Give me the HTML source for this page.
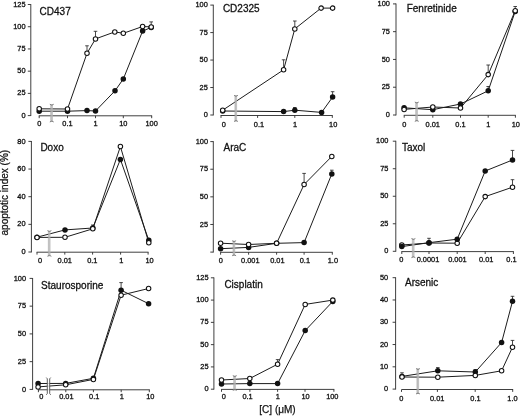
<!DOCTYPE html>
<html><head><meta charset="utf-8"><style>
html,body{margin:0;padding:0;background:#fff;}
body{width:520px;height:416px;overflow:hidden;}
svg{display:block;will-change:transform;}
text{font-family:"Liberation Sans",sans-serif;fill:#111;}
.tk{font-size:7.4px;stroke:#111;stroke-width:0.3px;}
.tt{font-size:10px;stroke:#111;stroke-width:0.28px;}
.lab{font-size:10px;stroke:#111;stroke-width:0.25px;}
.ax{stroke:#2a2a2a;stroke-width:0.9;fill:none;}
.ln{stroke:#1c1c1c;stroke-width:1.0;fill:none;stroke-linejoin:round;}
.eb{stroke:#1c1c1c;stroke-width:0.8;}
.oc{fill:#fff;stroke:#111;stroke-width:1.05;}
.fc{fill:#111;}
</style></head><body>
<svg width="520" height="416" viewBox="0 0 520 416">
<g><line x1="30.8" y1="4.1" x2="30.8" y2="116" class="ax"/>
<line x1="27.8" y1="115.6" x2="30.8" y2="115.6" class="ax"/>
<text x="25.6" y="117.7" class="tk" text-anchor="end">0</text>
<line x1="27.8" y1="93.38" x2="30.8" y2="93.38" class="ax"/>
<text x="25.6" y="95.48" class="tk" text-anchor="end">25</text>
<line x1="27.8" y1="71.16" x2="30.8" y2="71.16" class="ax"/>
<text x="25.6" y="73.26" class="tk" text-anchor="end">50</text>
<line x1="27.8" y1="48.94" x2="30.8" y2="48.94" class="ax"/>
<text x="25.6" y="51.04" class="tk" text-anchor="end">75</text>
<line x1="27.8" y1="26.72" x2="30.8" y2="26.72" class="ax"/>
<text x="25.6" y="28.82" class="tk" text-anchor="end">100</text>
<line x1="27.8" y1="4.5" x2="30.8" y2="4.5" class="ax"/>
<text x="25.6" y="6.6" class="tk" text-anchor="end">125</text>
<line x1="38.8" y1="115.8" x2="152.1" y2="115.8" class="ax"/>
<line x1="39.2" y1="115.8" x2="39.2" y2="118.2" class="ax"/>
<text x="39.2" y="126.2" class="tk" text-anchor="middle">0</text>
<line x1="67.5" y1="115.8" x2="67.5" y2="118.2" class="ax"/>
<text x="67.5" y="126.2" class="tk" text-anchor="middle">0.1</text>
<line x1="95.5" y1="115.8" x2="95.5" y2="118.2" class="ax"/>
<text x="95.5" y="126.2" class="tk" text-anchor="middle">1</text>
<line x1="123.3" y1="115.8" x2="123.3" y2="118.2" class="ax"/>
<text x="123.3" y="126.2" class="tk" text-anchor="middle">10</text>
<line x1="151.7" y1="115.8" x2="151.7" y2="118.2" class="ax"/>
<text x="151.6" y="126.2" class="tk" text-anchor="middle">100</text>
<text x="39.6" y="14.6" class="tt">CD437</text>
<polyline points="39.2,111.2 67.5,111.2 87,110.6 95.5,111 115,90.8 123.3,79 142.6,31.1 151.2,27.4" class="ln"/>
<polyline points="39.2,108.8 67.5,109 87,53.3 95.5,38.9 114.8,31.9 123.3,33.3 142.6,26.5 151.2,26.9" class="ln"/>
<line x1="87" y1="53.3" x2="87" y2="45.8" class="eb"/>
<line x1="85.2" y1="45.8" x2="88.8" y2="45.8" class="eb"/>
<line x1="95.5" y1="38.9" x2="95.5" y2="31.3" class="eb"/>
<line x1="93.7" y1="31.3" x2="97.3" y2="31.3" class="eb"/>
<line x1="151.2" y1="26.9" x2="151.2" y2="21.9" class="eb"/>
<line x1="149.4" y1="21.9" x2="153" y2="21.9" class="eb"/>
<rect x="50.7" y="104.2" width="2.2" height="17.8" fill="#b4b4b4" opacity="0.8"/>
<path d="M50.7 104.2V122" fill="none" stroke="#a0a0a0" stroke-width="0.5"/>
<path d="M49.8 104.2L51.8 105.2L53.8 104.2 M49.8 122L51.8 121L53.8 122" fill="none" stroke="#666" stroke-width="0.75"/>
<circle cx="39.2" cy="111.2" r="2.75" class="fc"/>
<circle cx="67.5" cy="111.2" r="2.75" class="fc"/>
<circle cx="87" cy="110.6" r="2.75" class="fc"/>
<circle cx="95.5" cy="111" r="2.75" class="fc"/>
<circle cx="115" cy="90.8" r="2.75" class="fc"/>
<circle cx="123.3" cy="79" r="2.75" class="fc"/>
<circle cx="142.6" cy="31.1" r="2.75" class="fc"/>
<circle cx="151.2" cy="27.4" r="2.75" class="fc"/>
<circle cx="39.2" cy="108.8" r="2.25" class="oc"/>
<circle cx="67.5" cy="109" r="2.25" class="oc"/>
<circle cx="87" cy="53.3" r="2.25" class="oc"/>
<circle cx="95.5" cy="38.9" r="2.25" class="oc"/>
<circle cx="114.8" cy="31.9" r="2.25" class="oc"/>
<circle cx="123.3" cy="33.3" r="2.25" class="oc"/>
<circle cx="142.6" cy="26.5" r="2.25" class="oc"/>
<circle cx="151.2" cy="26.9" r="2.25" class="oc"/></g>
<g><line x1="213.3" y1="4.7" x2="213.3" y2="115.4" class="ax"/>
<line x1="210.3" y1="115" x2="213.3" y2="115" class="ax"/>
<text x="207.8" y="117.1" class="tk" text-anchor="end">0</text>
<line x1="210.3" y1="87.53" x2="213.3" y2="87.53" class="ax"/>
<text x="207.8" y="89.62" class="tk" text-anchor="end">25</text>
<line x1="210.3" y1="60.05" x2="213.3" y2="60.05" class="ax"/>
<text x="207.8" y="62.15" class="tk" text-anchor="end">50</text>
<line x1="210.3" y1="32.58" x2="213.3" y2="32.58" class="ax"/>
<text x="207.8" y="34.68" class="tk" text-anchor="end">75</text>
<line x1="210.3" y1="5.1" x2="213.3" y2="5.1" class="ax"/>
<text x="207.8" y="7.2" class="tk" text-anchor="end">100</text>
<line x1="220.6" y1="115.5" x2="332.7" y2="115.5" class="ax"/>
<line x1="221" y1="115.5" x2="221" y2="117.9" class="ax"/>
<text x="223.8" y="126.8" class="tk" text-anchor="middle">0</text>
<line x1="257.6" y1="115.5" x2="257.6" y2="117.9" class="ax"/>
<text x="259" y="126.8" class="tk" text-anchor="middle">0.1</text>
<line x1="294.8" y1="115.5" x2="294.8" y2="117.9" class="ax"/>
<text x="295" y="126.8" class="tk" text-anchor="middle">1</text>
<line x1="332.3" y1="115.5" x2="332.3" y2="117.9" class="ax"/>
<text x="333.2" y="126.8" class="tk" text-anchor="middle">10</text>
<text x="222.9" y="12" class="tt">CD2325</text>
<polyline points="222.7,111 283.6,111.6 294.8,110.2 321.6,112.4 332.6,97.1" class="ln"/>
<polyline points="222.7,110.2 283.6,69.8 294.8,28.9 321.1,8.1 332.6,8.1" class="ln"/>
<line x1="283.6" y1="69.8" x2="283.6" y2="59.8" class="eb"/>
<line x1="281.8" y1="59.8" x2="285.4" y2="59.8" class="eb"/>
<line x1="294.8" y1="28.9" x2="294.8" y2="21" class="eb"/>
<line x1="293" y1="21" x2="296.6" y2="21" class="eb"/>
<line x1="294.8" y1="110.2" x2="294.8" y2="107.5" class="eb"/>
<line x1="293" y1="107.5" x2="296.6" y2="107.5" class="eb"/>
<line x1="332.6" y1="97.1" x2="332.6" y2="91.7" class="eb"/>
<line x1="330.8" y1="91.7" x2="334.4" y2="91.7" class="eb"/>
<rect x="234.9" y="95.3" width="2.2" height="26.2" fill="#b4b4b4" opacity="0.8"/>
<path d="M234.9 95.3V121.5" fill="none" stroke="#a0a0a0" stroke-width="0.5"/>
<path d="M234 95.3L236 96.3L238 95.3 M234 121.5L236 120.5L238 121.5" fill="none" stroke="#666" stroke-width="0.75"/>
<circle cx="222.7" cy="111" r="2.75" class="fc"/>
<circle cx="283.6" cy="111.6" r="2.75" class="fc"/>
<circle cx="294.8" cy="110.2" r="2.75" class="fc"/>
<circle cx="321.6" cy="112.4" r="2.75" class="fc"/>
<circle cx="332.6" cy="97.1" r="2.75" class="fc"/>
<circle cx="222.7" cy="110.2" r="2.25" class="oc"/>
<circle cx="283.6" cy="69.8" r="2.25" class="oc"/>
<circle cx="294.8" cy="28.9" r="2.25" class="oc"/>
<circle cx="321.1" cy="8.1" r="2.25" class="oc"/>
<circle cx="332.6" cy="8.1" r="2.25" class="oc"/></g>
<g><line x1="396" y1="3.5" x2="396" y2="115.4" class="ax"/>
<line x1="393" y1="115" x2="396" y2="115" class="ax"/>
<text x="389.9" y="117.1" class="tk" text-anchor="end">0</text>
<line x1="393" y1="87.22" x2="396" y2="87.22" class="ax"/>
<text x="389.9" y="89.32" class="tk" text-anchor="end">25</text>
<line x1="393" y1="59.45" x2="396" y2="59.45" class="ax"/>
<text x="389.9" y="61.55" class="tk" text-anchor="end">50</text>
<line x1="393" y1="31.67" x2="396" y2="31.67" class="ax"/>
<text x="389.9" y="33.77" class="tk" text-anchor="end">75</text>
<line x1="393" y1="3.9" x2="396" y2="3.9" class="ax"/>
<text x="389.9" y="6" class="tk" text-anchor="end">100</text>
<line x1="403.8" y1="115.3" x2="515.8" y2="115.3" class="ax"/>
<line x1="404.2" y1="115.3" x2="404.2" y2="117.7" class="ax"/>
<text x="404.2" y="126.6" class="tk" text-anchor="middle">0</text>
<line x1="432.8" y1="115.3" x2="432.8" y2="117.7" class="ax"/>
<text x="432.8" y="126.6" class="tk" text-anchor="middle">0.01</text>
<line x1="460.5" y1="115.3" x2="460.5" y2="117.7" class="ax"/>
<text x="460.5" y="126.6" class="tk" text-anchor="middle">0.1</text>
<line x1="488.2" y1="115.3" x2="488.2" y2="117.7" class="ax"/>
<text x="488.2" y="126.6" class="tk" text-anchor="middle">1</text>
<line x1="515.4" y1="115.3" x2="515.4" y2="117.7" class="ax"/>
<text x="515.8" y="126.6" class="tk" text-anchor="middle">10</text>
<text x="406.7" y="11.5" class="tt">Fenretinide</text>
<polyline points="404.1,107.8 432.8,109.7 460.5,104 488.2,90.8 515.2,11.4" class="ln"/>
<polyline points="404.1,109.4 432.8,107 460.5,108 488.2,74.6 515.2,10.7" class="ln"/>
<line x1="488.2" y1="74.6" x2="488.2" y2="65" class="eb"/>
<line x1="486.4" y1="65" x2="490" y2="65" class="eb"/>
<line x1="515.2" y1="10.7" x2="515.2" y2="6.5" class="eb"/>
<line x1="513.4" y1="6.5" x2="517" y2="6.5" class="eb"/>
<line x1="488.2" y1="90.8" x2="488.2" y2="86.5" class="eb"/>
<line x1="486.4" y1="86.5" x2="490" y2="86.5" class="eb"/>
<rect x="415.7" y="102" width="2.2" height="19.4" fill="#b4b4b4" opacity="0.8"/>
<path d="M415.7 102V121.4" fill="none" stroke="#a0a0a0" stroke-width="0.5"/>
<path d="M414.8 102L416.8 103L418.8 102 M414.8 121.4L416.8 120.4L418.8 121.4" fill="none" stroke="#666" stroke-width="0.75"/>
<circle cx="404.1" cy="107.8" r="2.75" class="fc"/>
<circle cx="432.8" cy="109.7" r="2.75" class="fc"/>
<circle cx="460.5" cy="104" r="2.75" class="fc"/>
<circle cx="488.2" cy="90.8" r="2.75" class="fc"/>
<circle cx="515.2" cy="11.4" r="2.75" class="fc"/>
<circle cx="404.1" cy="109.4" r="2.25" class="oc"/>
<circle cx="432.8" cy="107" r="2.25" class="oc"/>
<circle cx="460.5" cy="108" r="2.25" class="oc"/>
<circle cx="488.2" cy="74.6" r="2.25" class="oc"/>
<circle cx="515.2" cy="10.7" r="2.25" class="oc"/></g>
<g><line x1="31.4" y1="141" x2="31.4" y2="252.4" class="ax"/>
<line x1="28.4" y1="252" x2="31.4" y2="252" class="ax"/>
<text x="25.6" y="254.1" class="tk" text-anchor="end">0</text>
<line x1="28.4" y1="224.35" x2="31.4" y2="224.35" class="ax"/>
<text x="25.6" y="226.45" class="tk" text-anchor="end">20</text>
<line x1="28.4" y1="196.7" x2="31.4" y2="196.7" class="ax"/>
<text x="25.6" y="198.8" class="tk" text-anchor="end">40</text>
<line x1="28.4" y1="169.05" x2="31.4" y2="169.05" class="ax"/>
<text x="25.6" y="171.15" class="tk" text-anchor="end">60</text>
<line x1="28.4" y1="141.4" x2="31.4" y2="141.4" class="ax"/>
<text x="25.6" y="143.5" class="tk" text-anchor="end">80</text>
<line x1="36.6" y1="252.2" x2="148.5" y2="252.2" class="ax"/>
<line x1="37" y1="252.2" x2="37" y2="254.6" class="ax"/>
<text x="40" y="262.7" class="tk" text-anchor="middle">0</text>
<line x1="64.8" y1="252.2" x2="64.8" y2="254.6" class="ax"/>
<text x="64.8" y="262.7" class="tk" text-anchor="middle">0.01</text>
<line x1="92.6" y1="252.2" x2="92.6" y2="254.6" class="ax"/>
<text x="92.3" y="262.7" class="tk" text-anchor="middle">0.1</text>
<line x1="120.6" y1="252.2" x2="120.6" y2="254.6" class="ax"/>
<text x="121.2" y="262.7" class="tk" text-anchor="middle">1</text>
<line x1="148.1" y1="252.2" x2="148.1" y2="254.6" class="ax"/>
<text x="149.5" y="262.7" class="tk" text-anchor="middle">10</text>
<text x="40.4" y="151.3" class="tt">Doxo</text>
<polyline points="37,237.2 65,229.9 92.8,228 120.4,159.4 148.8,240.3" class="ln"/>
<polyline points="37,237.4 65,237.3 92.8,228.8 120.4,146.5 148.8,242.8" class="ln"/>
<line x1="92.8" y1="228" x2="92.8" y2="225" class="eb"/>
<line x1="91" y1="225" x2="94.6" y2="225" class="eb"/>
<rect x="48.3" y="230.6" width="2.2" height="25.7" fill="#b4b4b4" opacity="0.8"/>
<path d="M48.3 230.6V256.3" fill="none" stroke="#a0a0a0" stroke-width="0.5"/>
<path d="M47.4 230.6L49.4 231.6L51.4 230.6 M47.4 256.3L49.4 255.3L51.4 256.3" fill="none" stroke="#666" stroke-width="0.75"/>
<circle cx="37" cy="237.2" r="2.75" class="fc"/>
<circle cx="65" cy="229.9" r="2.75" class="fc"/>
<circle cx="92.8" cy="228" r="2.75" class="fc"/>
<circle cx="120.4" cy="159.4" r="2.75" class="fc"/>
<circle cx="148.8" cy="240.3" r="2.75" class="fc"/>
<circle cx="37" cy="237.4" r="2.25" class="oc"/>
<circle cx="65" cy="237.3" r="2.25" class="oc"/>
<circle cx="92.8" cy="228.8" r="2.25" class="oc"/>
<circle cx="120.4" cy="146.5" r="2.25" class="oc"/>
<circle cx="148.8" cy="242.8" r="2.25" class="oc"/></g>
<g><line x1="213.3" y1="141.2" x2="213.3" y2="252.5" class="ax"/>
<line x1="210.3" y1="252.1" x2="213.3" y2="252.1" class="ax"/>
<line x1="210.3" y1="224.47" x2="213.3" y2="224.47" class="ax"/>
<text x="208" y="226.57" class="tk" text-anchor="end">25</text>
<line x1="210.3" y1="196.85" x2="213.3" y2="196.85" class="ax"/>
<text x="208" y="198.95" class="tk" text-anchor="end">50</text>
<line x1="210.3" y1="169.22" x2="213.3" y2="169.22" class="ax"/>
<text x="208" y="171.32" class="tk" text-anchor="end">75</text>
<line x1="210.3" y1="141.6" x2="213.3" y2="141.6" class="ax"/>
<text x="208" y="143.7" class="tk" text-anchor="end">100</text>
<line x1="220.2" y1="252.3" x2="332.7" y2="252.3" class="ax"/>
<line x1="220.6" y1="252.3" x2="220.6" y2="254.7" class="ax"/>
<text x="220.8" y="262.6" class="tk" text-anchor="middle">0</text>
<line x1="248.6" y1="252.3" x2="248.6" y2="254.7" class="ax"/>
<text x="250.3" y="262.6" class="tk" text-anchor="middle">0.001</text>
<line x1="276.6" y1="252.3" x2="276.6" y2="254.7" class="ax"/>
<text x="277.4" y="262.6" class="tk" text-anchor="middle">0.01</text>
<line x1="304.1" y1="252.3" x2="304.1" y2="254.7" class="ax"/>
<text x="304.9" y="262.6" class="tk" text-anchor="middle">0.1</text>
<line x1="332.3" y1="252.3" x2="332.3" y2="254.7" class="ax"/>
<text x="332.9" y="262.6" class="tk" text-anchor="middle">1.0</text>
<text x="223.5" y="150.9" class="tt">AraC</text>
<polyline points="220.6,248.7 248.6,247.4 276.6,243.3 304.1,242.6 331.8,173.9" class="ln"/>
<polyline points="220.6,243.2 248.6,244.5 276.6,243.3 304.1,184.5 331.8,156.4" class="ln"/>
<line x1="304.1" y1="184.5" x2="304.1" y2="173.4" class="eb"/>
<line x1="302.3" y1="173.4" x2="305.9" y2="173.4" class="eb"/>
<line x1="331.8" y1="173.9" x2="331.8" y2="170.2" class="eb"/>
<line x1="330" y1="170.2" x2="333.6" y2="170.2" class="eb"/>
<rect x="233" y="240.7" width="2.2" height="15.1" fill="#b4b4b4" opacity="0.8"/>
<path d="M233 240.7V255.8" fill="none" stroke="#a0a0a0" stroke-width="0.5"/>
<path d="M232.1 240.7L234.1 241.7L236.1 240.7 M232.1 255.8L234.1 254.8L236.1 255.8" fill="none" stroke="#666" stroke-width="0.75"/>
<circle cx="220.6" cy="248.7" r="2.75" class="fc"/>
<circle cx="248.6" cy="247.4" r="2.75" class="fc"/>
<circle cx="276.6" cy="243.3" r="2.75" class="fc"/>
<circle cx="304.1" cy="242.6" r="2.75" class="fc"/>
<circle cx="331.8" cy="173.9" r="2.75" class="fc"/>
<circle cx="220.6" cy="243.2" r="2.25" class="oc"/>
<circle cx="248.6" cy="244.5" r="2.25" class="oc"/>
<circle cx="276.6" cy="243.3" r="2.25" class="oc"/>
<circle cx="304.1" cy="184.5" r="2.25" class="oc"/>
<circle cx="331.8" cy="156.4" r="2.25" class="oc"/></g>
<g><line x1="395.8" y1="140.8" x2="395.8" y2="251.7" class="ax"/>
<line x1="392.8" y1="251.3" x2="395.8" y2="251.3" class="ax"/>
<text x="388.4" y="253.4" class="tk" text-anchor="end">0</text>
<line x1="392.8" y1="223.78" x2="395.8" y2="223.78" class="ax"/>
<text x="388.4" y="225.88" class="tk" text-anchor="end">25</text>
<line x1="392.8" y1="196.25" x2="395.8" y2="196.25" class="ax"/>
<text x="388.4" y="198.35" class="tk" text-anchor="end">50</text>
<line x1="392.8" y1="168.72" x2="395.8" y2="168.72" class="ax"/>
<text x="388.4" y="170.82" class="tk" text-anchor="end">75</text>
<line x1="392.8" y1="141.2" x2="395.8" y2="141.2" class="ax"/>
<text x="388.4" y="143.3" class="tk" text-anchor="end">100</text>
<line x1="401.4" y1="251.6" x2="513.8" y2="251.6" class="ax"/>
<line x1="401.8" y1="251.6" x2="401.8" y2="254" class="ax"/>
<text x="401.3" y="261.9" class="tk" text-anchor="middle">0</text>
<line x1="429" y1="251.6" x2="429" y2="254" class="ax"/>
<text x="428" y="261.9" class="tk" text-anchor="middle">0.0001</text>
<line x1="457.2" y1="251.6" x2="457.2" y2="254" class="ax"/>
<text x="457.4" y="261.9" class="tk" text-anchor="middle">0.001</text>
<line x1="485.2" y1="251.6" x2="485.2" y2="254" class="ax"/>
<text x="486.2" y="261.9" class="tk" text-anchor="middle">0.01</text>
<line x1="513.4" y1="251.6" x2="513.4" y2="254" class="ax"/>
<text x="511.5" y="261.9" class="tk" text-anchor="middle">0.1</text>
<text x="402" y="150.6" class="tt">Taxol</text>
<polyline points="401.8,246.6 429,242.7 457.2,239.2 485.2,171 512.5,160" class="ln"/>
<polyline points="401.8,245 429,243 457.2,243.2 485.2,196.6 512.5,187.2" class="ln"/>
<line x1="512.5" y1="187.2" x2="512.5" y2="179.7" class="eb"/>
<line x1="510.7" y1="179.7" x2="514.3" y2="179.7" class="eb"/>
<line x1="429" y1="242.7" x2="429" y2="238.3" class="eb"/>
<line x1="427.2" y1="238.3" x2="430.8" y2="238.3" class="eb"/>
<line x1="512.5" y1="160" x2="512.5" y2="150.4" class="eb"/>
<line x1="510.7" y1="150.4" x2="514.3" y2="150.4" class="eb"/>
<rect x="412.3" y="238.5" width="2.2" height="19.2" fill="#b4b4b4" opacity="0.8"/>
<path d="M412.3 238.5V257.7" fill="none" stroke="#a0a0a0" stroke-width="0.5"/>
<path d="M411.4 238.5L413.4 239.5L415.4 238.5 M411.4 257.7L413.4 256.7L415.4 257.7" fill="none" stroke="#666" stroke-width="0.75"/>
<circle cx="401.8" cy="245" r="2.25" class="oc"/>
<circle cx="429" cy="243" r="2.25" class="oc"/>
<circle cx="457.2" cy="243.2" r="2.25" class="oc"/>
<circle cx="485.2" cy="196.6" r="2.25" class="oc"/>
<circle cx="512.5" cy="187.2" r="2.25" class="oc"/>
<circle cx="401.8" cy="246.6" r="2.75" class="fc"/>
<circle cx="429" cy="242.7" r="2.75" class="fc"/>
<circle cx="457.2" cy="239.2" r="2.75" class="fc"/>
<circle cx="485.2" cy="171" r="2.75" class="fc"/>
<circle cx="512.5" cy="160" r="2.75" class="fc"/></g>
<g><line x1="32.6" y1="278" x2="32.6" y2="389.8" class="ax"/>
<line x1="29.6" y1="389.4" x2="32.6" y2="389.4" class="ax"/>
<text x="26" y="391.5" class="tk" text-anchor="end">0</text>
<line x1="29.6" y1="361.65" x2="32.6" y2="361.65" class="ax"/>
<text x="26" y="363.75" class="tk" text-anchor="end">25</text>
<line x1="29.6" y1="333.9" x2="32.6" y2="333.9" class="ax"/>
<text x="26" y="336" class="tk" text-anchor="end">50</text>
<line x1="29.6" y1="306.15" x2="32.6" y2="306.15" class="ax"/>
<text x="26" y="308.25" class="tk" text-anchor="end">75</text>
<line x1="29.6" y1="278.4" x2="32.6" y2="278.4" class="ax"/>
<text x="26" y="280.5" class="tk" text-anchor="end">100</text>
<line x1="38" y1="389.8" x2="149.8" y2="389.8" class="ax"/>
<line x1="38.4" y1="389.8" x2="38.4" y2="392.2" class="ax"/>
<text x="41.2" y="399.4" class="tk" text-anchor="middle">0</text>
<line x1="65.8" y1="389.8" x2="65.8" y2="392.2" class="ax"/>
<text x="66.4" y="399.4" class="tk" text-anchor="middle">0.01</text>
<line x1="93.4" y1="389.8" x2="93.4" y2="392.2" class="ax"/>
<text x="94.2" y="399.4" class="tk" text-anchor="middle">0.1</text>
<line x1="121.2" y1="389.8" x2="121.2" y2="392.2" class="ax"/>
<text x="121.9" y="399.4" class="tk" text-anchor="middle">1</text>
<line x1="149.3" y1="389.8" x2="149.3" y2="392.2" class="ax"/>
<text x="150.3" y="399.4" class="tk" text-anchor="middle">10</text>
<text x="41.1" y="288.5" class="tt">Staurosporine</text>
<polyline points="38.1,383.5 65.7,383.4 93.4,378.3 121.1,290.2 148.6,303.7" class="ln"/>
<polyline points="38.1,386.9 65.7,384.8 93.4,379.4 121.1,295.2 148.6,288.5" class="ln"/>
<line x1="121.1" y1="290.2" x2="121.1" y2="282.6" class="eb"/>
<line x1="119.3" y1="282.6" x2="122.9" y2="282.6" class="eb"/>
<rect x="47.3" y="377.6" width="2.4" height="17.2" fill="#fff" opacity="0.8"/>
<path d="M46.3 377.6L47.3 378.8V393.6L46.3 394.8 M50.7 377.6L49.7 378.8V393.6L50.7 394.8" fill="none" stroke="#555" stroke-width="0.95"/>
<circle cx="38.1" cy="383.5" r="2.75" class="fc"/>
<circle cx="65.7" cy="383.4" r="2.75" class="fc"/>
<circle cx="93.4" cy="378.3" r="2.75" class="fc"/>
<circle cx="121.1" cy="290.2" r="2.75" class="fc"/>
<circle cx="148.6" cy="303.7" r="2.75" class="fc"/>
<circle cx="38.1" cy="386.9" r="2.25" class="oc"/>
<circle cx="65.7" cy="384.8" r="2.25" class="oc"/>
<circle cx="93.4" cy="379.4" r="2.25" class="oc"/>
<circle cx="121.1" cy="295.2" r="2.25" class="oc"/>
<circle cx="148.6" cy="288.5" r="2.25" class="oc"/></g>
<g><line x1="213.9" y1="277.4" x2="213.9" y2="389.6" class="ax"/>
<line x1="210.9" y1="389.2" x2="213.9" y2="389.2" class="ax"/>
<text x="208.6" y="391.3" class="tk" text-anchor="end">0</text>
<line x1="210.9" y1="366.92" x2="213.9" y2="366.92" class="ax"/>
<text x="208.6" y="369.02" class="tk" text-anchor="end">25</text>
<line x1="210.9" y1="344.64" x2="213.9" y2="344.64" class="ax"/>
<text x="208.6" y="346.74" class="tk" text-anchor="end">50</text>
<line x1="210.9" y1="322.36" x2="213.9" y2="322.36" class="ax"/>
<text x="208.6" y="324.46" class="tk" text-anchor="end">75</text>
<line x1="210.9" y1="300.08" x2="213.9" y2="300.08" class="ax"/>
<text x="208.6" y="302.18" class="tk" text-anchor="end">100</text>
<line x1="210.9" y1="277.8" x2="213.9" y2="277.8" class="ax"/>
<text x="208.6" y="279.9" class="tk" text-anchor="end">125</text>
<line x1="221.1" y1="389.4" x2="334.3" y2="389.4" class="ax"/>
<line x1="221.5" y1="389.4" x2="221.5" y2="391.8" class="ax"/>
<text x="223.7" y="399.4" class="tk" text-anchor="middle">0</text>
<line x1="249.9" y1="389.4" x2="249.9" y2="391.8" class="ax"/>
<text x="247.6" y="399.4" class="tk" text-anchor="middle">0.1</text>
<line x1="277.6" y1="389.4" x2="277.6" y2="391.8" class="ax"/>
<text x="277.7" y="399.4" class="tk" text-anchor="middle">1</text>
<line x1="305" y1="389.4" x2="305" y2="391.8" class="ax"/>
<text x="305.5" y="399.4" class="tk" text-anchor="middle">10</text>
<line x1="333.9" y1="389.4" x2="333.9" y2="391.8" class="ax"/>
<text x="332.3" y="399.4" class="tk" text-anchor="middle">100</text>
<text x="224.4" y="288.2" class="tt">Cisplatin</text>
<polyline points="221.5,384 249.8,383.6 277.6,383.6 305.2,330.6 332.8,301.4" class="ln"/>
<polyline points="221.5,380 249.8,378.5 277.6,364.2 305.2,304.4 332.8,300.1" class="ln"/>
<line x1="277.6" y1="364.2" x2="277.6" y2="359.6" class="eb"/>
<line x1="275.8" y1="359.6" x2="279.4" y2="359.6" class="eb"/>
<rect x="233.7" y="375.6" width="2.2" height="14.8" fill="#b4b4b4" opacity="0.8"/>
<path d="M233.7 375.6V390.4" fill="none" stroke="#a0a0a0" stroke-width="0.5"/>
<path d="M232.8 375.6L234.8 376.6L236.8 375.6 M232.8 390.4L234.8 389.4L236.8 390.4" fill="none" stroke="#666" stroke-width="0.75"/>
<circle cx="221.5" cy="384" r="2.75" class="fc"/>
<circle cx="249.8" cy="383.6" r="2.75" class="fc"/>
<circle cx="277.6" cy="383.6" r="2.75" class="fc"/>
<circle cx="305.2" cy="330.6" r="2.75" class="fc"/>
<circle cx="332.8" cy="301.4" r="2.75" class="fc"/>
<circle cx="221.5" cy="380" r="2.25" class="oc"/>
<circle cx="249.8" cy="378.5" r="2.25" class="oc"/>
<circle cx="277.6" cy="364.2" r="2.25" class="oc"/>
<circle cx="305.2" cy="304.4" r="2.25" class="oc"/>
<circle cx="332.8" cy="300.1" r="2.25" class="oc"/></g>
<g><line x1="395.6" y1="277.3" x2="395.6" y2="389.5" class="ax"/>
<line x1="392.6" y1="389.1" x2="395.6" y2="389.1" class="ax"/>
<text x="388.2" y="391.2" class="tk" text-anchor="end">0</text>
<line x1="392.6" y1="366.82" x2="395.6" y2="366.82" class="ax"/>
<text x="388.2" y="368.92" class="tk" text-anchor="end">10</text>
<line x1="392.6" y1="344.54" x2="395.6" y2="344.54" class="ax"/>
<text x="388.2" y="346.64" class="tk" text-anchor="end">20</text>
<line x1="392.6" y1="322.26" x2="395.6" y2="322.26" class="ax"/>
<text x="388.2" y="324.36" class="tk" text-anchor="end">30</text>
<line x1="392.6" y1="299.98" x2="395.6" y2="299.98" class="ax"/>
<text x="388.2" y="302.08" class="tk" text-anchor="end">40</text>
<line x1="392.6" y1="277.7" x2="395.6" y2="277.7" class="ax"/>
<text x="388.2" y="279.8" class="tk" text-anchor="end">50</text>
<line x1="401.6" y1="389.5" x2="513.1" y2="389.5" class="ax"/>
<line x1="401.5" y1="389.5" x2="401.5" y2="391.9" class="ax"/>
<text x="401.3" y="400.5" class="tk" text-anchor="middle">0</text>
<line x1="437.4" y1="389.5" x2="437.4" y2="391.9" class="ax"/>
<text x="437.2" y="400.5" class="tk" text-anchor="middle">0.01</text>
<line x1="475.2" y1="389.5" x2="475.2" y2="391.9" class="ax"/>
<text x="475.5" y="400.5" class="tk" text-anchor="middle">0.1</text>
<line x1="512.7" y1="389.5" x2="512.7" y2="391.9" class="ax"/>
<text x="512.5" y="400.5" class="tk" text-anchor="middle">1.0</text>
<text x="405" y="285.6" class="tt">Arsenic</text>
<polyline points="402,376.4 437.8,370.8 475.3,372 501.6,342.5 512.5,301.3" class="ln"/>
<polyline points="402,377 437.8,377.2 475.3,375.4 501.6,370.8 512.5,347.2" class="ln"/>
<line x1="402" y1="377" x2="402" y2="372.8" class="eb"/>
<line x1="400.2" y1="372.8" x2="403.8" y2="372.8" class="eb"/>
<line x1="512.5" y1="347.2" x2="512.5" y2="340.4" class="eb"/>
<line x1="510.7" y1="340.4" x2="514.3" y2="340.4" class="eb"/>
<line x1="437.8" y1="370.8" x2="437.8" y2="367.6" class="eb"/>
<line x1="436" y1="367.6" x2="439.6" y2="367.6" class="eb"/>
<line x1="475.3" y1="372" x2="475.3" y2="369.5" class="eb"/>
<line x1="473.5" y1="369.5" x2="477.1" y2="369.5" class="eb"/>
<line x1="512.5" y1="301.3" x2="512.5" y2="296.3" class="eb"/>
<line x1="510.7" y1="296.3" x2="514.3" y2="296.3" class="eb"/>
<rect x="416.9" y="368.5" width="2.2" height="25.5" fill="#b4b4b4" opacity="0.8"/>
<path d="M416.9 368.5V394" fill="none" stroke="#a0a0a0" stroke-width="0.5"/>
<path d="M416 368.5L418 369.5L420 368.5 M416 394L418 393L420 394" fill="none" stroke="#666" stroke-width="0.75"/>
<circle cx="402" cy="376.4" r="2.75" class="fc"/>
<circle cx="437.8" cy="370.8" r="2.75" class="fc"/>
<circle cx="475.3" cy="372" r="2.75" class="fc"/>
<circle cx="501.6" cy="342.5" r="2.75" class="fc"/>
<circle cx="512.5" cy="301.3" r="2.75" class="fc"/>
<circle cx="402" cy="377" r="2.25" class="oc"/>
<circle cx="437.8" cy="377.2" r="2.25" class="oc"/>
<circle cx="475.3" cy="375.4" r="2.25" class="oc"/>
<circle cx="501.6" cy="370.8" r="2.25" class="oc"/>
<circle cx="512.5" cy="347.2" r="2.25" class="oc"/></g>
<text x="8" y="192.7" class="lab" text-anchor="middle" transform="rotate(-90 8 192.7)">apoptotic index (%)</text>
<text x="277.5" y="413.1" class="lab" text-anchor="middle">[C] (μM)</text>
</svg>
</body></html>
